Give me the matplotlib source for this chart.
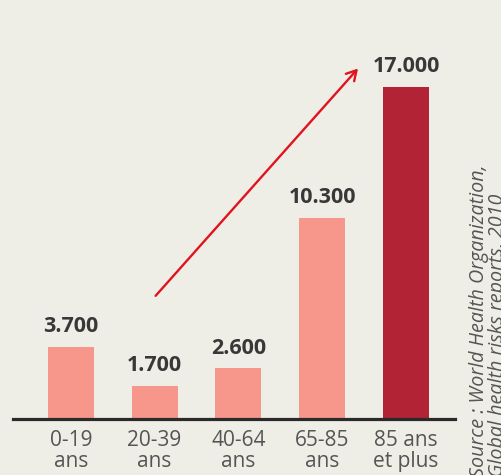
import matplotlib
matplotlib.use('Agg')
import matplotlib.pyplot as plt
import numpy as np

# Donnees
Classes = ['0-19\nans', '20-39\nans', '40-64\nans', '65-85\nans', '85 ans\net plus']
Valeurs = [3700, 1700, 2600, 10300, 17000]
Etiquettes = ['3.700', '1.700', '2.600', '10.300', '17.000']

fond = '#EEEEE6'
couleurs = ['#F7978B', '#F7978B', '#F7978B', '#F7978B', '#B22435']

fig = plt.figure(figsize=(5.01, 4.75), dpi=100, facecolor=fond)
ax = fig.add_axes([13/501, 56/475, 442/501, 419/475])
ax.set_facecolor(fond)

x = np.arange(len(Classes))
barras = ax.bar(x, Valeurs, width=0.55, color=couleurs)

ax.set_xlim(-0.69, 4.585)
ax.set_ylim(0, 21450)

# Rotulos no topo das barras
for barra, rot in zip(barras, Etiquettes):
    ax.annotate(rot, (barra.get_x() + barra.get_width()/2, barra.get_height()),
                xytext=(0, 14.5), textcoords='offset points',
                ha='center', va='center', fontsize=15.5, fontweight='bold',
                family='Open Sans', color='#383838')

# Fleche
ax.annotate('', xy=(3.45, 18050), xytext=(0.99, 6200),
            arrowprops=dict(arrowstyle='->,head_length=0.7,head_width=0.4',
                            color='#E0141E', lw=1.7))

# Axes
for s in ['top', 'right', 'left']:
    ax.spines[s].set_visible(False)
ax.spines['bottom'].set_linewidth(2.3)
ax.spines['bottom'].set_color('#2A2A2A')
ax.set_yticks([])
ax.set_xticks(x)
ax.set_xticklabels(Classes, fontsize=15, family='Open Sans', color='#555555',
                   linespacing=1.0)
ax.tick_params(axis='x', length=0, pad=8)

# Source
fig.text(469/501, -2/475, 'Source : World Health Organization,\nGlobal health risks reports, 2010',
         rotation=90, ha='left', va='bottom', fontsize=14.2, style='italic',
         family='Open Sans', color='#555555', linespacing=0.95)

fig.savefig('out.png', dpi=100, facecolor=fond)
